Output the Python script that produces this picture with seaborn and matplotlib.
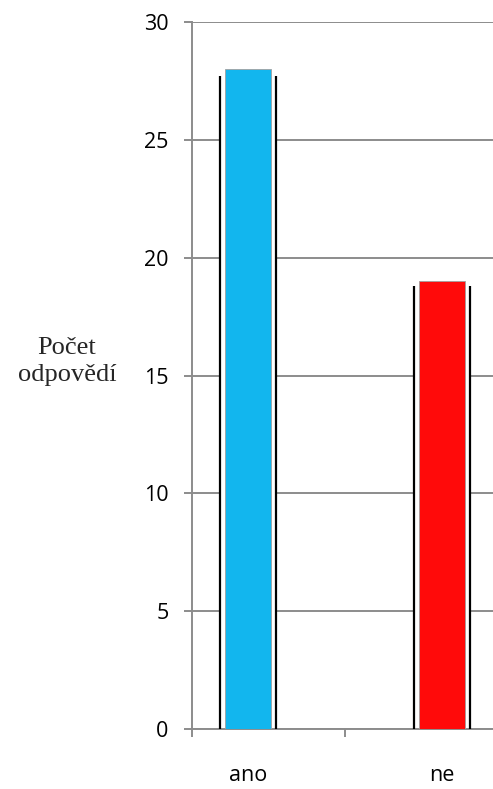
import pandas as pd
import numpy as np
import matplotlib
matplotlib.use("Agg")
import matplotlib.pyplot as plt
import seaborn as sns

# data
categories = ["ano", "ne"]
counts = [28, 19]
bar_colors = ["#12B6EE", "#FF0A0A"]
y_ticks = [0, 5, 10, 15, 20, 25, 30]

df = pd.DataFrame({"odpoved": categories, "pocet": counts})

sns.set_theme(style="white")
plt.rcParams["font.family"] = ["Open Sans", "DejaVu Sans"]

fig = plt.figure(figsize=(4.93, 7.89), dpi=100)
ax = fig.add_axes([192 / 493, 60 / 789, 1 - 192 / 493, 707 / 789])

# white "halo" behind each bar (hides grid), black side lines
sns.barplot(data=df, x="odpoved", y="pocet", color="white", width=0.29,
            edgecolor="none", linewidth=0, saturation=1, ax=ax, zorder=2)
outer = list(ax.patches)
for p in outer:
    h = p.get_height() * 0.99
    ax.vlines([p.get_x(), p.get_x() + p.get_width()], 0, h,
              color="black", lw=1.6, zorder=3)

# coloured bars
sns.barplot(data=df, x="odpoved", y="pocet", hue="odpoved",
            palette=bar_colors, width=0.24, legend=False, saturation=1,
            edgecolor="#a0a0a0", linewidth=0.6, ax=ax, zorder=4)

ax.set_ylim(0, 30)
ax.set_xlim(-0.29, 1.263)
ax.set_yticks(y_ticks)
ax.yaxis.grid(True, color="#8c8c8c", lw=1.4)
ax.set_axisbelow(True)

for s in ["top", "right"]:
    ax.spines[s].set_visible(False)
for s in ["left", "bottom"]:
    ax.spines[s].set_color("#8c8c8c")
    ax.spines[s].set_linewidth(1.4)

ax.tick_params(axis="y", which="major", left=True, length=6, width=1.4,
               color="#8c8c8c", pad=11, labelsize=15.5, labelcolor="black")
ax.tick_params(axis="x", which="major", bottom=False, pad=20,
               labelsize=15.5, labelcolor="black")
ax.set_xticks([-0.29, 0.5], minor=True)
ax.tick_params(axis="x", which="minor", bottom=True, length=6, width=1.4,
               color="#8c8c8c")

ax.set_xlabel("")
ax.set_ylabel("Počet\nodpovědí", rotation=0, fontsize=19,
              family=["Liberation Serif", "DejaVu Serif"],
              ha="center", va="center", linespacing=1.3)
ax.yaxis.set_label_coords(-0.415, 0.52)

fig.savefig("out.png", dpi=100)
